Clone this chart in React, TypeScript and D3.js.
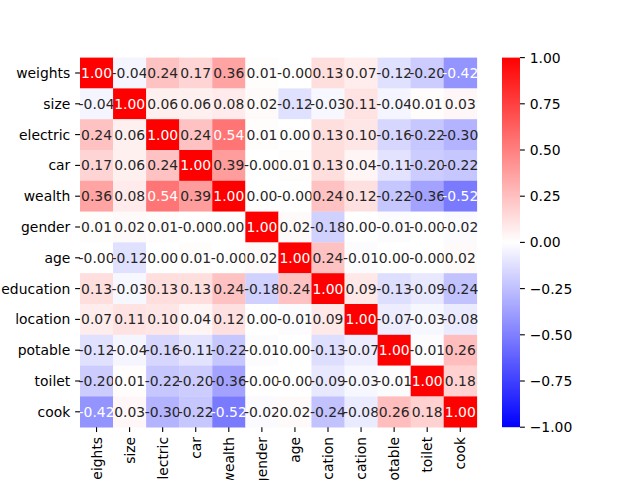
import React from "react";
import * as d3 from "d3";

const labels = ["weights", "size", "electric", "car", "wealth", "gender", "age", "education", "location", "potable", "toilet", "cook"];

const rowWeights = [1.0, -0.04, 0.24, 0.17, 0.36, 0.01, -0.001, 0.13, 0.07, -0.12, -0.2, -0.42];
const rowSize = [-0.04, 1.0, 0.06, 0.06, 0.08, 0.02, -0.12, -0.03, 0.11, -0.04, 0.01, 0.03];
const rowElectric = [0.24, 0.06, 1.0, 0.24, 0.54, 0.01, 0.001, 0.13, 0.1, -0.16, -0.22, -0.3];
const rowCar = [0.17, 0.06, 0.24, 1.0, 0.39, -0.001, 0.01, 0.13, 0.04, -0.11, -0.2, -0.22];
const rowWealth = [0.36, 0.08, 0.54, 0.39, 1.0, 0.001, -0.001, 0.24, 0.12, -0.22, -0.36, -0.52];
const rowGender = [0.01, 0.02, 0.01, -0.001, 0.001, 1.0, 0.02, -0.18, 0.001, -0.01, -0.001, -0.02];
const rowAge = [-0.001, -0.12, 0.001, 0.01, -0.001, 0.02, 1.0, 0.24, -0.01, 0.001, -0.001, 0.02];
const rowEducation = [0.13, -0.03, 0.13, 0.13, 0.24, -0.18, 0.24, 1.0, 0.09, -0.13, -0.09, -0.24];
const rowLocation = [0.07, 0.11, 0.1, 0.04, 0.12, 0.001, -0.01, 0.09, 1.0, -0.07, -0.03, -0.08];
const rowPotable = [-0.12, -0.04, -0.16, -0.11, -0.22, -0.01, 0.001, -0.13, -0.07, 1.0, -0.01, 0.26];
const rowToilet = [-0.2, 0.01, -0.22, -0.2, -0.36, -0.001, -0.001, -0.09, -0.03, -0.01, 1.0, 0.18];
const rowCook = [-0.42, 0.03, -0.3, -0.22, -0.52, -0.02, 0.02, -0.24, -0.08, 0.26, 0.18, 1.0];

const matrix = [rowWeights, rowSize, rowElectric, rowCar, rowWealth, rowGender, rowAge, rowEducation, rowLocation, rowPotable, rowToilet, rowCook];
const cbTicks = [1.0, 0.75, 0.5, 0.25, 0.0, -0.25, -0.5, -0.75, -1.0];

const W = 640, H = 480;
const left = 80, right = 476.8, top = 57.6, bottom = 427.2;
const cbLeft = 502, cbRight = 520;
const FONT = "DejaVu Sans, sans-serif";
const FS = 13.9;
const TICK = 4.86;

const color = d3.scaleLinear<string>().domain([-1, 0, 1]).range(["#0000ff", "#ffffff", "#ff0000"]).clamp(true);

function lum(c: string) {
  const rgb = d3.rgb(c);
  const f = (v: number) => {
    const s = v / 255;
    return s <= 0.03928 ? s / 12.92 : Math.pow((s + 0.055) / 1.055, 2.4);
  };
  return 0.2126 * f(rgb.r) + 0.7152 * f(rgb.g) + 0.0722 * f(rgb.b);
}

export default function App() {
  const x = d3.scaleBand<string>().domain(labels).range([left, right]);
  const y = d3.scaleBand<string>().domain(labels).range([top, bottom]);
  const cy = d3.scaleLinear().domain([-1, 1]).range([bottom, top]);
  const fmt = d3.format(".2f");

  return (
    <svg width={W} height={H} style={{ position: "absolute", left: 0, top: 0, background: "#fff" }} fontFamily={FONT}>
      <defs>
        <linearGradient id="cbgrad" x1="0" y1="1" x2="0" y2="0">
          <stop offset="0%" stopColor={color(-1)} />
          <stop offset="50%" stopColor={color(0)} />
          <stop offset="100%" stopColor={color(1)} />
        </linearGradient>
      </defs>
      <rect x={0} y={0} width={W} height={H} fill="#fff" />
      {matrix.map((row, i) =>
        row.map((v, j) => {
          const c = color(v);
          const xx = x(labels[j])!;
          const yy = y(labels[i])!;
          return (
            <g key={`${i}-${j}`}>
              <rect x={xx} y={yy} width={x.bandwidth() + 0.3} height={y.bandwidth() + 0.3} fill={c} />
              <text
                x={xx + x.bandwidth() / 2}
                y={yy + y.bandwidth() / 2}
                textAnchor="middle"
                dominantBaseline="central"
                fontSize={FS}
                fill={lum(c) > 0.408 ? "#262626" : "#ffffff"}
              >
                {v.toFixed(2)}
              </text>
            </g>
          );
        })
      )}
      {labels.map((l) => {
        const yy = y(l)! + y.bandwidth() / 2;
        return (
          <g key={"y" + l}>
            <line x1={left} x2={left - TICK} y1={yy} y2={yy} stroke="#000" strokeWidth={1.1} />
            <text x={left - 2 * TICK} y={yy} textAnchor="end" dominantBaseline="central" fontSize={FS} fill="#000">
              {l}
            </text>
          </g>
        );
      })}
      {labels.map((l) => {
        const xx = x(l)! + x.bandwidth() / 2;
        return (
          <g key={"x" + l}>
            <line x1={xx} x2={xx} y1={bottom} y2={bottom + TICK} stroke="#000" strokeWidth={1.1} />
            <text
              transform={`translate(${xx},${bottom + 2 * TICK}) rotate(-90)`}
              textAnchor="end"
              dominantBaseline="central"
              fontSize={FS}
              fill="#000"
            >
              {l}
            </text>
          </g>
        );
      })}
      <rect x={cbLeft} y={top} width={cbRight - cbLeft} height={bottom - top} fill="url(#cbgrad)" />
      {cbTicks.map((t) => (
        <g key={"cb" + t}>
          <line x1={cbRight} x2={cbRight + TICK} y1={cy(t)} y2={cy(t)} stroke="#000" strokeWidth={1.1} />
          <text x={cbRight + 2 * TICK} y={cy(t)} dominantBaseline="central" fontSize={FS} fill="#000">
            {fmt(t)}
          </text>
        </g>
      ))}
    </svg>
  );
}
